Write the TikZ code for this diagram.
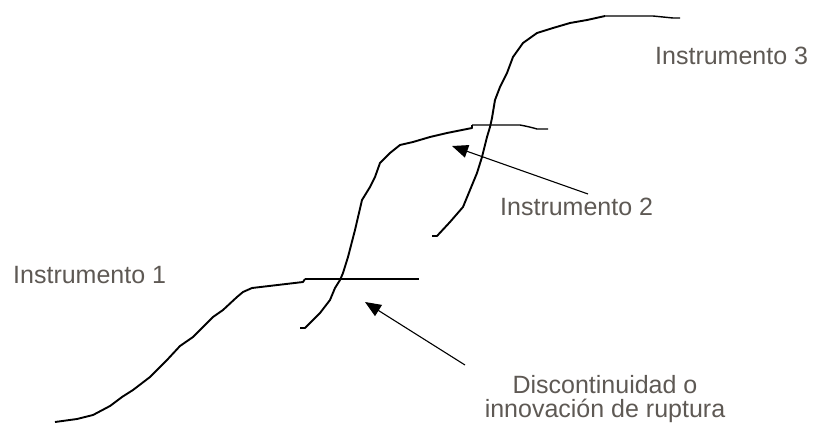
\documentclass[tikz,border=0pt]{standalone}
\usepackage{fontspec}
\setmainfont{Liberation Sans}
\usetikzlibrary{arrows.meta}
\definecolor{txtgray}{RGB}{94,89,84}
\tikzset{
  curve/.style={line width=1.9pt, line join=round, black},
  flat/.style={line width=1.4pt, black},
  pointer/.style={line width=1.1pt, black, -{Triangle[length=16pt,width=13pt]}},
  lbl/.style={text=txtgray, font=\fontsize{25}{24}\selectfont, inner sep=0pt}
}
\begin{document}
\begin{tikzpicture}[x=1pt,y=-1pt]
\useasboundingbox (0,0) rectangle (823,429);
% labels
\node[lbl, anchor=base west] (i3) at (655,64) {Instrumento 3};
\node[lbl, anchor=base west] (i2) at (500,215) {Instrumento 2};
\node[lbl, anchor=base west] (i1) at (13,283) {Instrumento 1};
\node[lbl, align=center, anchor=base] (disc) at (605,417) {Discontinuidad o\\innovación de ruptura};
% curve 1
\draw[curve] (55,422) -- (77,419) -- (93,415) -- (110,406) -- (122,397) -- (133,390) -- (150,377) -- (167,360) -- (180,346) -- (193,337) -- (213,317) -- (223,310) -- (237,297) -- (243,292) -- (252,288) -- (303,282) -- (305,279);
\draw[flat] (305,279) -- (419,279);
% curve 2
\draw[curve] (300,328) -- (305,328) -- (320,313) -- (330,300) -- (335,288) -- (340,280) -- (343,273) -- (348,257) -- (355,230) -- (362,200) -- (370,187) -- (375,177) -- (380,163) -- (390,153) -- (400,145) -- (413,142) -- (430,137) -- (447,133) -- (472,128) -- (472,125);
\draw[flat] (472,125) -- (520,125) .. controls (530,127) .. (537,129) -- (548,129);
% curve 3
\draw[curve] (432,236) -- (437,236) -- (450,222) -- (463,207) -- (470,190) -- (477,173) -- (482,157) -- (487,137) -- (490,127) -- (492,118) -- (495,100) -- (500,87) -- (507,73) -- (513,57) -- (523,43) -- (537,33) -- (553,28) -- (570,23) -- (587,20) -- (605,16);
\draw[flat] (605,16) -- (653,16) .. controls (663,17) .. (673,18) -- (680,18);
% arrows
\coordinate (a1tail) at (465,365);
\coordinate (a1tip) at (365,302);
\coordinate (a2tail) at (588,194);
\coordinate (a2tip) at (452,146);
\draw[pointer] (a1tail) -- (a1tip);
\draw[pointer] (a2tail) -- (a2tip);
\end{tikzpicture}
\end{document}
